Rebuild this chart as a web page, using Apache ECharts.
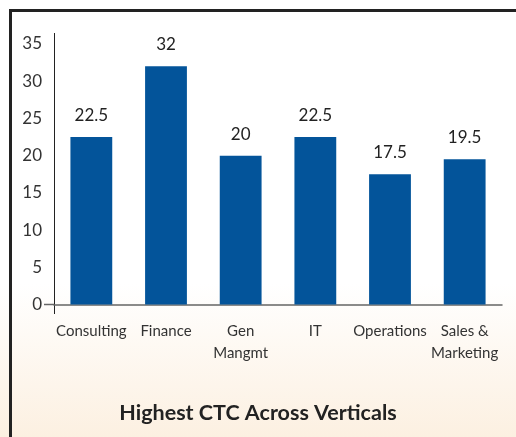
<!DOCTYPE html>
<html>
	<head>
		<meta charset="utf-8" />
		<title>Highest CTC Across Verticals</title>
		<script src="https://cdn.jsdelivr.net/npm/echarts@6/dist/echarts.min.js"></script>
		<style>
			html, body { margin: 0; padding: 0; }
		</style>
	</head>

	<body>
		<div id="main" style="width: 516px;height:437px;"></div>
		<script type="text/javascript">
			// chart data
			var categories = ['Consulting', 'Finance', 'Gen\nMangmt', 'IT', 'Operations', 'Sales &\nMarketing'];
			var ctcValues = [22.5, 32, 20, 22.5, 17.5, 19.5];
			var yTicks = [0, 5, 10, 15, 20, 25, 30, 35];

			var myChart = echarts.init(document.getElementById('main'));
			var font = 'Lato, "Open Sans", sans-serif';

			var option = {
				backgroundColor: new echarts.graphic.LinearGradient(0, 0, 0, 1, [
					{ offset: 0, color: '#ffffff' },
					{ offset: 0.65, color: '#ffffff' },
					{ offset: 1, color: '#fcf0e1' }
				]),
				title: {
					text: 'Highest CTC Across Verticals',
					left: 'center',
					top: 397,
					textStyle: { fontFamily: font, fontSize: 21.5, fontWeight: 'bold', color: '#222' }
				},
				grid: { left: 54, right: 14, top: 44, bottom: 132.5 },
				xAxis: {
					type: 'category',
					data: categories,
					axisLine: { lineStyle: { color: '#666', width: 1.5 } },
					axisTick: { show: false },
					axisLabel: {
						interval: 0,
						margin: 16,
						lineHeight: 22,
						fontFamily: font,
						fontSize: 15,
						color: '#333'
					}
				},
				yAxis: {
					type: 'value',
					min: yTicks[0],
					max: yTicks[yTicks.length - 1],
					interval: 5,
					splitLine: { show: false },
					axisLine: { show: true, lineStyle: { color: '#222', width: 1 } },
					axisTick: { show: false },
					axisLabel: { margin: 12, fontFamily: font, fontSize: 17, color: '#333' }
				},
				series: [{
					type: 'bar',
					data: ctcValues,
					barWidth: '56%',
					itemStyle: { color: '#03549a' },
					label: {
						show: true,
						position: 'top',
						distance: 13,
						fontFamily: font,
						fontSize: 17,
						color: '#222'
					}
				}],
				graphic: [
					// frame lines
					{ type: 'rect', shape: { x: 9, y: 9, width: 507, height: 3 }, style: { fill: '#222' } },
					{ type: 'rect', shape: { x: 9, y: 9, width: 3, height: 428 }, style: { fill: '#222' } },
					// axis line extensions
					{ type: 'line', shape: { x1: 54.5, y1: 33, x2: 54.5, y2: 44 }, style: { stroke: '#222', lineWidth: 1 } },
					{ type: 'line', shape: { x1: 54.5, y1: 304, x2: 54.5, y2: 314 }, style: { stroke: '#222', lineWidth: 1 } },
					{ type: 'line', shape: { x1: 44, y1: 304.5, x2: 54, y2: 304.5 }, style: { stroke: '#666', lineWidth: 1.5 } }
				]
			};
			myChart.setOption(option);
		</script>
	</body>
</html>
